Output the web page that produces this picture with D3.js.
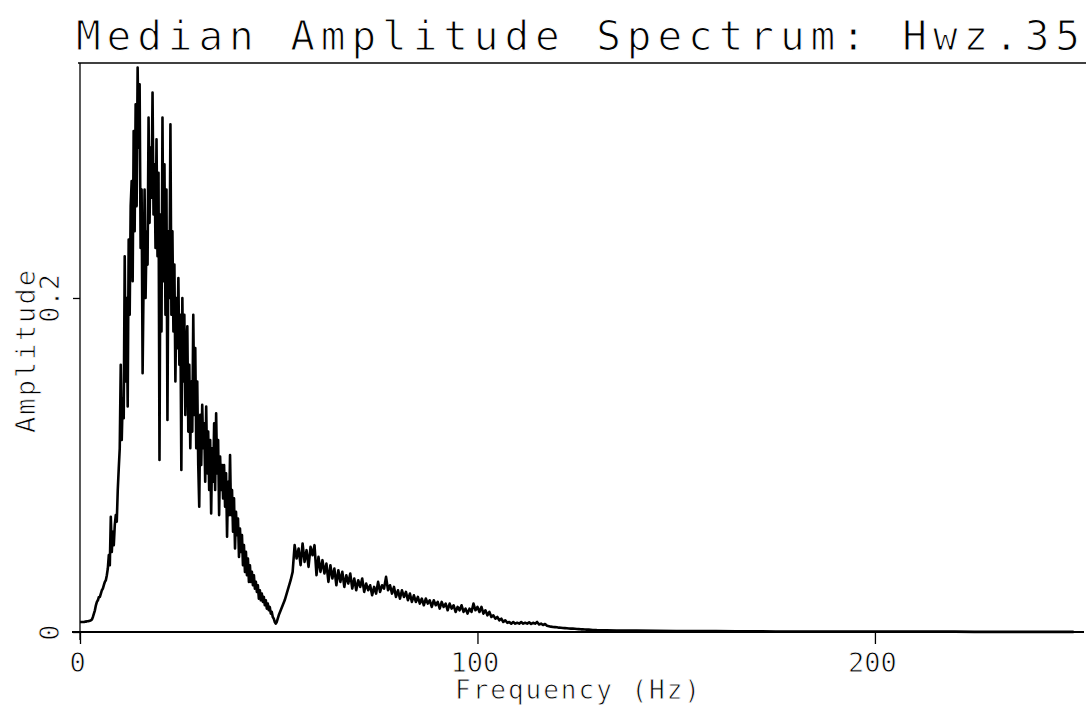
<!DOCTYPE html>
<html>
<head>
<meta charset="utf-8">
<script src="https://cdn.jsdelivr.net/npm/d3@7"></script>
<style>
  html, body { margin: 0; padding: 0; background: #fff; }
  svg { display: block; }
  text.thin { font-family: "DejaVu Sans Mono", monospace; fill: #000; stroke: #fff; paint-order: fill stroke; }
</style>
</head>
<body>
<script>
// ---- data ----
const titleText = "Median Amplitude Spectrum: Hwz.35";
const xLabel = "Frequency (Hz)";
const yLabel = "Amplitude";
const xTicks = [0, 100, 200];
const yTicks = [0, 0.2];
const yTickLabels = ["0", "0.2"];

// Segment A: 0 - 50 Hz, 0.25 Hz spacing (one row per Hz)
const segAStart = 0, segAStep = 0.25;
const segAAmp = [
  0.006, 0.006, 0.006, 0.006,
  0.006, 0.0062, 0.0062, 0.0064,
  0.0064, 0.0066, 0.0068, 0.007,
  0.0075, 0.009, 0.011, 0.013,
  0.016, 0.018, 0.019, 0.021,
  0.021, 0.023, 0.025, 0.026,
  0.028, 0.030, 0.031, 0.034,
  0.038, 0.046, 0.040, 0.069,
  0.048, 0.060, 0.052, 0.064,
  0.070, 0.066, 0.085, 0.098,
  0.110, 0.160, 0.115, 0.140,
  0.128, 0.225, 0.150, 0.200,
  0.135, 0.235, 0.190, 0.255,
  0.270, 0.210, 0.300, 0.240,
  0.316, 0.255, 0.338, 0.290,
  0.328, 0.230, 0.265, 0.155,
  0.210, 0.265, 0.200, 0.240,
  0.220, 0.308, 0.245, 0.290,
  0.260, 0.323, 0.250, 0.280,
  0.230, 0.295, 0.225, 0.275,
  0.103, 0.250, 0.180, 0.308,
  0.210, 0.280, 0.190, 0.265,
  0.127, 0.240, 0.200, 0.304,
  0.190, 0.240, 0.180, 0.220,
  0.150, 0.200, 0.170, 0.212,
  0.160, 0.190, 0.097, 0.200,
  0.150, 0.190, 0.130, 0.170,
  0.183, 0.120, 0.160, 0.110,
  0.150, 0.120, 0.190, 0.130,
  0.170, 0.110, 0.150, 0.100,
  0.075, 0.130, 0.100, 0.136,
  0.110, 0.125, 0.090, 0.135,
  0.095, 0.120, 0.085, 0.115,
  0.071, 0.110, 0.090, 0.125,
  0.085, 0.131, 0.095, 0.115,
  0.070, 0.105, 0.085, 0.100,
  0.080, 0.100, 0.075, 0.095,
  0.057, 0.090, 0.070, 0.106,
  0.070, 0.085, 0.060, 0.080,
  0.050, 0.072, 0.058, 0.068,
  0.045, 0.062, 0.048, 0.058,
  0.040, 0.052, 0.036, 0.048,
  0.034, 0.044, 0.030, 0.040,
  0.030, 0.036, 0.028, 0.034,
  0.026, 0.030, 0.024, 0.028,
  0.020, 0.025, 0.019, 0.023,
  0.018, 0.021, 0.016, 0.019,
  0.014, 0.017, 0.013, 0.015,
  0.011, 0.012, 0.009, 0.008,
  0.006, 0.005, 0.006, 0.008,
  0.010
];

// Segment B: 50.5 - 130 Hz, 0.5 Hz spacing (one row per 2 Hz)
const segBStart = 50.5, segBStep = 0.5;
const segBAmp = [
  0.013, 0.016, 0.019, 0.023,
  0.027, 0.031, 0.036, 0.052,
  0.044, 0.050, 0.040, 0.053,
  0.042, 0.049, 0.039, 0.051,
  0.046, 0.052, 0.034, 0.045,
  0.036, 0.043, 0.035, 0.041,
  0.030, 0.040, 0.032, 0.038,
  0.028, 0.037, 0.030, 0.036,
  0.027, 0.034, 0.029, 0.035,
  0.026, 0.032, 0.025, 0.031,
  0.027, 0.032, 0.024, 0.029,
  0.025, 0.028, 0.022, 0.027,
  0.023, 0.030, 0.024, 0.028,
  0.026, 0.033, 0.025, 0.028,
  0.023, 0.027, 0.021, 0.025,
  0.020, 0.025, 0.021, 0.024,
  0.019, 0.023, 0.018, 0.022,
  0.018, 0.021, 0.017, 0.020,
  0.016, 0.020, 0.017, 0.019,
  0.015, 0.019, 0.016, 0.018,
  0.014, 0.018, 0.015, 0.017,
  0.013, 0.017, 0.014, 0.016,
  0.012, 0.015, 0.013, 0.016,
  0.012, 0.014, 0.011, 0.014,
  0.012, 0.017, 0.013, 0.015,
  0.012, 0.015, 0.011, 0.013,
  0.010, 0.012, 0.009, 0.010,
  0.008, 0.009, 0.007, 0.008,
  0.006, 0.007, 0.0055, 0.006,
  0.005, 0.006, 0.005, 0.0055,
  0.005, 0.006, 0.005, 0.0055,
  0.005, 0.0058, 0.0048, 0.0055,
  0.005, 0.006, 0.0045, 0.005,
  0.0042, 0.0048, 0.0038, 0.0035,
  0.0032, 0.003, 0.0029, 0.0028,
  0.0026, 0.0025, 0.0024, 0.0023,
  0.0022, 0.0021, 0.002, 0.002,
  0.0019, 0.0018, 0.0017, 0.0016,
  0.0016, 0.0015, 0.0014, 0.0014,
  0.0013, 0.0012, 0.0012, 0.0011
];

// Segment C: 135 - 250 Hz, 5 Hz spacing
const segCStart = 135, segCStep = 5;
const segCAmp = [
  0.0009, 0.0008, 0.0007, 0.0006, 0.0005, 0.0005, 0.0004, 0.0004, 0.0003, 0.0003,
  0.0003, 0.0003, 0.0002, 0.0002, 0.0002, 0.0002, 0.0002, 0.0002, 0.0001, 0.0001,
  0.0001, 0.0001, 0.0001, 0.0001
];

// ---- build points ----
const points = [];
[[segAStart, segAStep, segAAmp], [segBStart, segBStep, segBAmp], [segCStart, segCStep, segCAmp]]
  .forEach(([s, st, arr]) => arr.forEach((a, i) => points.push({ f: s + st * i, a })));

// ---- layout ----
const W = 1086, H = 713;
const plotLeft = 80, plotRight = 1084, plotTop = 63, plotBottom = 632;

const svg = d3.select("body").append("svg").attr("width", W).attr("height", H);

const x = d3.scaleLinear().domain([0, 252.6]).range([plotLeft, plotRight]);
const y = d3.scaleLinear().domain([0, 0.3407]).range([plotBottom, plotTop]);

// title
svg.append("text").attr("class", "thin")
  .attr("x", 76).attr("y", 50)
  .attr("textLength", 1004).attr("lengthAdjust", "spacing")
  .style("font-size", "41px").style("stroke-width", "1.1px")
  .text(titleText);

// frame lines (left, top, bottom)
const g = svg.append("g").attr("stroke", "#000").attr("fill", "none");
g.append("line").attr("x1", plotLeft).attr("x2", plotLeft).attr("y1", plotTop).attr("y2", plotBottom + 8).attr("stroke-width", 1.3);
g.append("line").attr("x1", plotLeft - 2).attr("x2", plotRight + 2).attr("y1", plotTop).attr("y2", plotTop).attr("stroke-width", 1.6);
g.append("line").attr("x1", plotLeft - 8).attr("x2", plotRight).attr("y1", plotBottom).attr("y2", plotBottom).attr("stroke-width", 2);

// x axis ticks & labels via d3 axis
const xAxis = d3.axisBottom(x).tickValues(xTicks).tickSize(12).tickFormat(d3.format("d"));
const xg = svg.append("g").attr("transform", `translate(0,${plotBottom})`).call(xAxis);
xg.select(".domain").remove();
xg.selectAll(".tick line").attr("stroke", "#000").attr("stroke-width", 1.3);
xg.selectAll(".tick text")
  .attr("class", "thin")
  .attr("y", 0).attr("dy", 0)
  .attr("transform", "translate(-3,40)")
  .style("font-family", "DejaVu Sans Mono, monospace")
  .style("font-size", "27px").style("stroke-width", "0.8px").attr("fill", "#000");

// y axis ticks & rotated labels
const yAxis = d3.axisLeft(y).tickValues(yTicks).tickSize(7).tickFormat((d, i) => yTickLabels[i]);
const yg = svg.append("g").attr("transform", `translate(${plotLeft},0)`).call(yAxis);
yg.select(".domain").remove();
yg.selectAll(".tick line").attr("stroke", "#000").attr("stroke-width", 1.3);
yg.selectAll(".tick text")
  .attr("class", "thin")
  .attr("x", 0).attr("dy", 0)
  .attr("text-anchor", "middle")
  .attr("transform", "translate(-21,0) rotate(-90)")
  .style("font-family", "DejaVu Sans Mono, monospace")
  .style("font-size", "27px").style("stroke-width", "0.8px").attr("fill", "#000");

// axis titles
svg.append("text").attr("class", "thin")
  .attr("x", 455).attr("y", 699)
  .attr("textLength", 245).attr("lengthAdjust", "spacing")
  .style("font-size", "26px").style("stroke-width", "0.8px")
  .text(xLabel);

svg.append("text").attr("class", "thin")
  .attr("transform", "translate(35,433) rotate(-90)")
  .attr("textLength", 163).attr("lengthAdjust", "spacing")
  .style("font-size", "27px").style("stroke-width", "0.8px")
  .text(yLabel);

// spectrum line
const line = d3.line().x(d => x(d.f)).y(d => y(d.a));
svg.append("path")
  .datum(points)
  .attr("fill", "none")
  .attr("stroke", "#000")
  .attr("stroke-width", 2.6)
  .attr("stroke-linejoin", "round")
  .attr("d", line);
</script>
</body>
</html>
